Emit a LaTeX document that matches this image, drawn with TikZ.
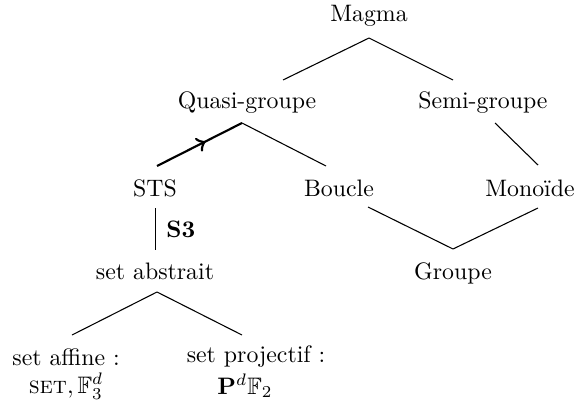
\documentclass[tikz,border=0pt]{standalone}
\usepackage{amssymb}
\usetikzlibrary{calc,decorations.markings}
\begin{document}
\begin{tikzpicture}[x=0.42pt,y=-0.42pt,
  lbl/.style={inner sep=0pt,anchor=center},
  edge/.style={line width=0.45pt},
  thickedge/.style={line width=0.9pt,
    postaction={decorate},
    decoration={markings,mark=at position 0.57 with {\arrow[line width=0.9pt,scale=1.25]{>}}}}]
\useasboundingbox (0,0) rectangle (584,407);
\node[lbl] (M) at (369,16) {Magma};
\node[lbl] (QG) at (247,103) {Quasi-groupe};
\node[lbl] (SG) at (483,103) {Semi-groupe};
\node[lbl] (STS) at (155,188) {STS};
\node[lbl] (B) at (339,188) {Boucle};
\node[lbl] (Mo) at (530,188) {Monoïde};
\node[lbl] (SA) at (155,271) {set abstrait};
\node[lbl] (G) at (453,273) {Groupe};
\node[lbl] (AF) at (66,357) {set affine :};
\node[lbl] (AF2) at (66,386) {$\textsc{set},\mathbb{F}_3^d$};
\node[lbl] (PR) at (256,357) {set projectif :};
\node[lbl] (PR2) at (245,386) {$\mathbf{P}^d\mathbb{F}_2$};
% edges
\draw[edge] ($(M)+(0,22)$) -- ($(QG)+(36,-23)$);
\draw[edge] ($(M)+(0,22)$) -- ($(SG)+(-30,-23)$);
\draw[thickedge] ($(STS)+(2,-22)$) -- ($(QG)+(-5,20)$);
\draw[edge] ($(QG)+(-5,20)$) -- ($(B)+(-13,-22)$);
\draw[edge] ($(SG)+(12,20)$) -- ($(Mo)+(8,-23)$);
\draw[edge] ($(B)+(29,19)$) -- ($(G)+(0,-24)$);
\draw[edge] ($(Mo)+(8,20)$) -- ($(G)+(0,-24)$);
\draw[edge] ($(STS)+(0.5,20)$) -- node[right=1pt,font=\bfseries] (S3) {S3} ($(SA)+(0.5,-21)$);
\draw[edge] ($(SA)+(2,21)$) -- ($(AF)+(6,-22)$);
\draw[edge] ($(SA)+(2,21)$) -- ($(PR)+(-14,-22)$);
\end{tikzpicture}
\end{document}
